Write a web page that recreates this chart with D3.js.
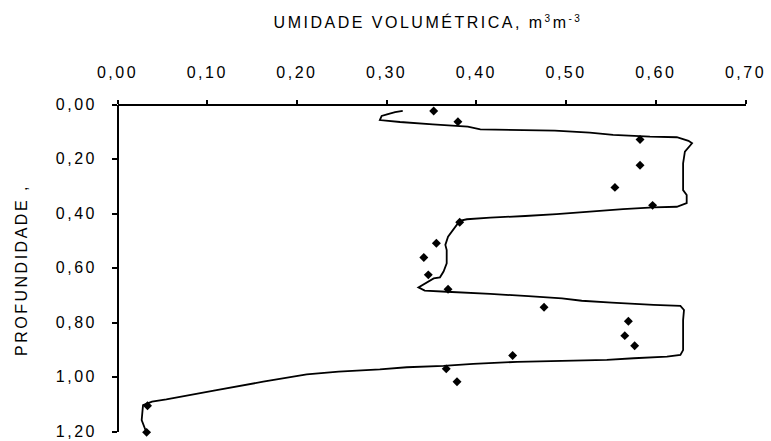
<!DOCTYPE html>
<html>
<head>
<meta charset="utf-8">
<script src="https://cdn.jsdelivr.net/npm/d3@7"></script>
<style>
  body { margin: 0; background: #fff; }
  text { font-family: "Liberation Sans", Arial, sans-serif; fill: #000; }
</style>
</head>
<body>
<div id="chart"></div>
<script>
// perfil de umidade: pontos medidos + curva simulada
var width = 771, height = 441;

// eixo x (umidade) e eixo y (profundidade)
var xTicks = [0, 0.1, 0.2, 0.3, 0.4, 0.5, 0.6, 0.7];
var yTicks = [0, 0.2, 0.4, 0.6, 0.8, 1.0, 1.2];

// pontos observados
var obsUmid = [0.353, 0.380, 0.583, 0.583, 0.555, 0.597, 0.382, 0.356, 0.342, 0.347,
               0.369, 0.476, 0.570, 0.566, 0.577, 0.441, 0.367, 0.379, 0.034, 0.033];
var obsProf = [0.026, 0.065, 0.130, 0.225, 0.306, 0.372, 0.434, 0.511, 0.563, 0.627,
               0.680, 0.746, 0.797, 0.850, 0.887, 0.923, 0.972, 1.019, 1.107, 1.205];

// curva simulada
var curvaUmid = [0.3185, 0.310, 0.301, 0.295, 0.293, 0.3155, 0.352, 0.391, 0.405, 0.488,
                 0.527, 0.553, 0.594, 0.624, 0.637, 0.641, 0.633, 0.631, 0.631, 0.635,
                 0.635, 0.624, 0.598, 0.564, 0.527, 0.490, 0.455, 0.416, 0.390, 0.382,
                 0.369, 0.366, 0.3675, 0.3675, 0.364, 0.360, 0.353, 0.336, 0.343, 0.3675,
                 0.416, 0.4585, 0.496, 0.518, 0.5515, 0.598, 0.628, 0.632, 0.631, 0.631,
                 0.628, 0.613, 0.576, 0.546, 0.446, 0.397, 0.364, 0.323, 0.293, 0.247,
                 0.2115, 0.163, 0.111, 0.055, 0.039, 0.029, 0.0275, 0.031, 0.033];
var curvaProf = [0.025, 0.030, 0.038, 0.044, 0.059, 0.066, 0.0745, 0.083, 0.093, 0.098,
                 0.105, 0.113, 0.120, 0.122, 0.135, 0.144, 0.175, 0.218, 0.316, 0.334,
                 0.364, 0.377, 0.379, 0.386, 0.395, 0.404, 0.411, 0.417, 0.423, 0.429,
                 0.487, 0.517, 0.536, 0.585, 0.615, 0.636, 0.640, 0.673, 0.685, 0.689,
                 0.697, 0.705, 0.713, 0.722, 0.729, 0.737, 0.741, 0.756, 0.793, 0.903,
                 0.921, 0.927, 0.933, 0.939, 0.946, 0.954, 0.961, 0.966, 0.974, 0.982,
                 0.992, 1.019, 1.050, 1.084, 1.092, 1.105, 1.160, 1.190, 1.208];

var fmt = function(d) { return d.toFixed(2).replace(".", ","); };

var svg = d3.select("#chart").append("svg")
    .attr("width", width)
    .attr("height", height);

var x = d3.scaleLinear().domain([0, 0.7]).range([117, 745]);
var y = d3.scaleLinear().domain([0, 1.2]).range([104, 431]);

// eixo superior
var xAxis = d3.axisTop(x).tickValues(xTicks).tickSize(4).tickSizeOuter(0)
    .tickPadding(22).tickFormat(fmt);
var gx = svg.append("g")
    .attr("transform", "translate(0," + y(0) + ")")
    .call(xAxis);

// eixo esquerdo
var yAxis = d3.axisLeft(y).tickValues(yTicks).tickSize(5).tickSizeOuter(0)
    .tickPadding(15).tickFormat(fmt);
var gy = svg.append("g")
    .attr("transform", "translate(" + x(0) + ",0)")
    .call(yAxis);

svg.selectAll(".domain, .tick line")
    .attr("stroke", "#000")
    .attr("stroke-width", 2)
    .attr("shape-rendering", "crispEdges");
svg.selectAll(".tick text")
    .attr("font-size", 16)
    .style("letter-spacing", "2.5px")
    .attr("fill", "#000");

// titulos
var titulo = svg.append("text")
    .attr("x", 428)
    .attr("y", 28)
    .attr("text-anchor", "middle")
    .attr("font-size", 16)
    .style("letter-spacing", "2.5px");
titulo.append("tspan").text("UMIDADE VOLUMÉTRICA, m");
titulo.append("tspan").attr("font-size", 10).attr("dy", -6).text("3");
titulo.append("tspan").attr("dy", 6).text("m");
titulo.append("tspan").attr("font-size", 10).attr("dy", -6).text("-3");

svg.append("text")
    .attr("transform", "translate(27,270) rotate(-90)")
    .attr("text-anchor", "middle")
    .attr("font-size", 16)
    .style("letter-spacing", "2.5px")
    .text("PROFUNDIDADE ,");

// curva
var curva = curvaUmid.map(function(u, i) { return [u, curvaProf[i]]; });
var linha = d3.line()
    .x(function(d) { return x(d[0]); })
    .y(function(d) { return y(d[1]); });
svg.append("path")
    .datum(curva)
    .attr("d", linha)
    .attr("fill", "none")
    .attr("stroke", "#000")
    .attr("stroke-width", 1.8);

// pontos
var obs = obsUmid.map(function(u, i) { return { u: u, p: obsProf[i] }; });
svg.append("g").selectAll("path")
    .data(obs)
    .enter()
    .append("path")
    .attr("d", d3.symbol().type(d3.symbolSquare).size(40))
    .attr("transform", function(d) {
        return "translate(" + x(d.u) + "," + y(d.p) + ") rotate(45)";
    })
    .attr("fill", "#000");
</script>
</body>
</html>
